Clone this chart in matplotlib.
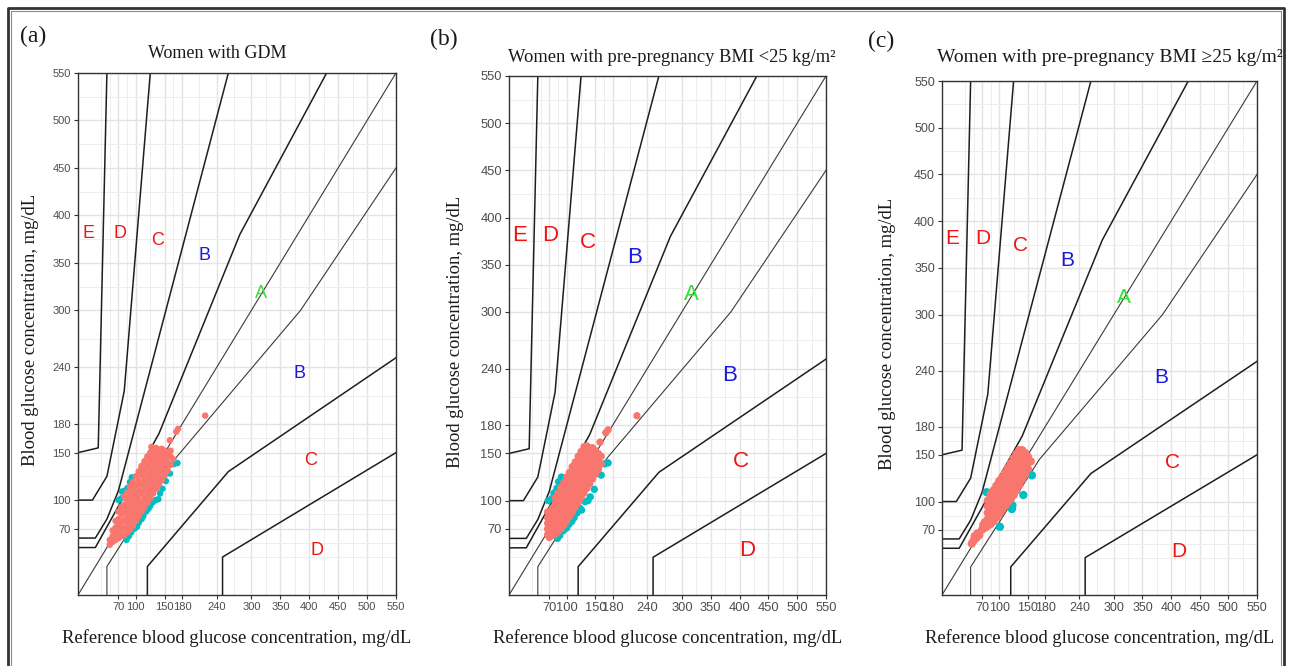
import matplotlib
matplotlib.use("Agg")
import matplotlib.pyplot as plt
from matplotlib.lines import Line2D

# Parkes consensus error grid, type 1 diabetes (mg/dL)
identity_x = [0, 550]
identity_y = [0, 550]
a_upper_x = [0, 30, 140, 280, 430]
a_upper_y = [50, 50, 170, 380, 550]
a_lower_x = [50, 50, 170, 385, 550]
a_lower_y = [0, 30, 145, 300, 450]
b_upper_x = [0, 30, 50, 70, 260]
b_upper_y = [60, 60, 80, 110, 550]
b_lower_x = [120, 120, 260, 550]
b_lower_y = [0, 30, 130, 250]
c_upper_x = [0, 25, 50, 80, 125]
c_upper_y = [100, 100, 125, 215, 550]
c_lower_x = [250, 250, 550]
c_lower_y = [0, 40, 150]
d_upper_x = [0, 35, 50]
d_upper_y = [150, 155, 550]

ticks = [70, 100, 150, 180, 240, 300, 350, 400, 450, 500, 550]
minor_ticks = [40, 55, 85, 125, 165, 210, 270, 325, 375, 425, 475, 525]

zone_names = ['E', 'D', 'C', 'B', 'A', 'B', 'C', 'D']
zone_x = [18, 72, 137, 218, 317, 383, 402, 413]
zone_y = [381, 381, 374, 358, 318, 233, 142, 47]
zone_colors = ['#F01414', '#F01414', '#F01414', '#1818E0', '#33E033',
               '#1818E0', '#F01414', '#F01414']

# points: (reference, [meter readings])
gdm_zone_a = [
    (55, [53, 58]), (60, [56, 62, 68]), (65, [58, 64, 71, 78]),
    (70, [60, 66, 73, 80, 88]), (75, [62, 69, 77, 85, 93]),
    (80, [63, 71, 79, 87, 95, 103]), (85, [66, 74, 82, 91, 100, 108]),
    (90, [69, 77, 86, 95, 105, 114]), (95, [73, 81, 90, 100, 110, 119]),
    (100, [78, 86, 95, 105, 115, 125]), (105, [83, 91, 100, 110, 120, 130]),
    (110, [88, 96, 106, 116, 126, 135]), (115, [92, 101, 111, 121, 131, 141]),
    (120, [97, 106, 116, 126, 136, 146]), (125, [102, 111, 121, 131, 141, 150]),
    (130, [107, 116, 126, 136, 146, 154]), (135, [112, 121, 131, 141, 151, 155]),
    (140, [117, 126, 136, 146, 153]), (145, [121, 131, 141, 150, 154]),
    (150, [126, 136, 145, 152]), (155, [131, 140, 148]), (160, [137, 146, 152]),
    (165, [143]), (159, [163]), (170, [172]), (173, [175]), (220, [189]),
    (127, [156]), (110, [136]),
]
gdm_zone_b = [
    (70, [100]), (75, [102]), (76, [109]), (81, [110]), (86, [113]),
    (90, [119]), (93, [124]), (84, [58]), (88, [62]), (92, [66]),
    (98, [70]), (102, [72]), (105, [76]), (110, [80]), (113, [83]),
    (118, [88]), (122, [91]), (125, [94]), (130, [98]), (134, [100]),
    (139, [101]), (142, [107]), (146, [112]), (152, [120]), (159, [128]),
    (166, [138]), (172, [139]),
]
lean_zone_a = [
    (67, [64, 70, 76, 82, 88]), (70, [61, 67, 74, 81, 88]),
    (75, [63, 70, 77, 85, 92]), (80, [64, 72, 80, 88, 96, 103]),
    (85, [67, 75, 83, 92, 100, 108]), (90, [70, 78, 87, 96, 105, 114]),
    (95, [74, 82, 91, 100, 110, 119]), (100, [78, 87, 96, 106, 115, 125]),
    (105, [83, 92, 101, 111, 120, 130]), (110, [88, 97, 107, 116, 126, 136]),
    (115, [93, 102, 112, 122, 132, 141]), (120, [98, 107, 117, 127, 137, 147]),
    (125, [103, 112, 122, 132, 142, 152]), (130, [108, 117, 127, 137, 147, 157]),
    (135, [113, 122, 132, 142, 152, 158]), (140, [118, 127, 137, 147, 156]),
    (145, [123, 132, 142, 151, 156]), (150, [128, 137, 146, 153]),
    (155, [133, 142, 150]), (160, [139, 147]),
    (158, [162]), (168, [172]), (172, [175]), (222, [190]), (110, [136]),
]
lean_zone_b = [
    (68, [100]), (74, [102]), (78, [108]), (83, [113]), (86, [120]),
    (91, [125]), (95, [123]), (84, [60]), (88, [63]), (94, [68]),
    (100, [71]), (104, [75]), (109, [78]), (113, [82]), (118, [87]),
    (123, [92]), (126, [90]), (132, [99]), (137, [100]), (141, [104]),
    (148, [112]), (160, [127]), (166, [139]), (172, [140]),
]
obese_zone_a = [
    (52, [55]), (55, [58]), (57, [63]), (60, [61]), (62, [66]), (65, [64]),
    (70, [70]), (72, [75]), (75, [72, 78]),
    (80, [74, 81, 88, 95, 101]), (85, [76, 83, 90, 97, 104, 108]),
    (90, [79, 86, 93, 100, 107, 112]), (95, [83, 90, 97, 104, 111, 117]),
    (100, [87, 94, 101, 108, 115, 122]), (105, [91, 98, 105, 112, 119, 126]),
    (110, [95, 102, 109, 116, 123, 131]), (115, [99, 106, 114, 122, 130, 136]),
    (120, [103, 111, 119, 127, 135, 141]), (125, [107, 115, 123, 131, 139, 146]),
    (130, [112, 120, 128, 136, 144, 151]), (135, [118, 126, 134, 142, 150, 155]),
    (140, [124, 132, 140, 148, 155]), (145, [129, 137, 145, 152]),
    (150, [135, 142, 148]), (155, [143]), (136, [146]),
]
obese_zone_b = [
    (78, [110]), (101, [73]), (122, [92]), (123, [96]), (142, [107]), (157, [128]),
]

titles = ['Women with GDM',
          'Women with pre-pregnancy BMI <25 kg/m²',
          'Women with pre-pregnancy BMI ≥25 kg/m²']
panel_tags = ['(a)', '(b)', '(c)']
x_label = 'Reference blood glucose concentration, mg/dL'
y_label = 'Blood glucose concentration, mg/dL'

W, H = 1289, 666
SERIF = ['Liberation Serif', 'DejaVu Serif']
SANS = ['Liberation Sans', 'DejaVu Sans']


def flatten(rows):
    xs, ys = [], []
    for ref, vals in rows:
        for v in vals:
            xs.append(ref)
            ys.append(v)
    return xs, ys


def draw_panel(ax, zone_a, zone_b, tick_size, zone_size, dot):
    thin = [(identity_x, identity_y), (a_lower_x, a_lower_y)]
    bold = [(a_upper_x, a_upper_y), (b_upper_x, b_upper_y), (b_lower_x, b_lower_y),
            (c_upper_x, c_upper_y), (c_lower_x, c_lower_y), (d_upper_x, d_upper_y)]
    for xs, ys in thin:
        ax.plot(xs, ys, color='#3a3a3a', lw=0.8, zorder=2)
    for xs, ys in bold:
        ax.plot(xs, ys, color='#1e1e1e', lw=1.1, zorder=2)

    bx, by = flatten(zone_b)
    ax.scatter(bx, by, s=dot, color='#00BFC4', edgecolors='none', zorder=3)
    rx, ry = flatten(zone_a)
    ax.scatter(rx, ry, s=dot, color='#F8766D', edgecolors='none', zorder=4)

    for name, zx, zy, col in zip(zone_names, zone_x, zone_y, zone_colors):
        ax.text(zx, zy, name, color=col, fontsize=zone_size, family=SANS,
                ha='center', va='center', zorder=5)

    ax.set_xlim(0, 550)
    ax.set_ylim(0, 550)
    ax.set_xticks(ticks)
    ax.set_yticks(ticks)
    ax.set_xticks(minor_ticks, minor=True)
    ax.set_yticks(minor_ticks, minor=True)
    ax.grid(which='major', color='#E3E3E3', lw=1.0)
    ax.grid(which='minor', color='#EEEEEE', lw=0.7)
    ax.set_axisbelow(True)
    ax.tick_params(which='major', length=3, width=0.8, color='#333333',
                   labelsize=tick_size, labelcolor='#4D4D4D', pad=2)
    ax.tick_params(which='minor', length=0)
    for lab in ax.get_xticklabels() + ax.get_yticklabels():
        lab.set_family(SANS)
    for sp in ax.spines.values():
        sp.set_color('#333333')
        sp.set_linewidth(1.0)


fig = plt.figure(figsize=(W / 100, H / 100), dpi=100)

# pixel boxes (left, top, right, bottom) of the three panels
boxes = [(78, 73, 396, 595), (509, 76, 826, 595), (942, 81, 1257, 595)]
data = [(gdm_zone_a, gdm_zone_b), (lean_zone_a, lean_zone_b), (obese_zone_a, obese_zone_b)]
tick_sizes = [8, 9.3, 9]
zone_sizes = [13, 16, 15]
dots = [22, 28, 36]
title_pos = [(217, 54, 13), (672, 57, 13.3), (1110, 57, 14)]
tag_pos = [(33, 36), (444, 39), (881, 41)]
ylab_x = [31, 456, 888]

for i, (l, t, r, b) in enumerate(boxes):
    ax = fig.add_axes([l / W, 1 - b / H, (r - l) / W, (b - t) / H])
    draw_panel(ax, data[i][0], data[i][1], tick_sizes[i], zone_sizes[i], dots[i])
    cx = (l + r) / 2
    fig.text(cx / W, 1 - 638 / H, x_label, family=SERIF, fontsize=13.4,
             ha='center', va='center', color='#1a1a1a')
    fig.text(ylab_x[i] / W, 1 - ((t + b) / 2 - 4) / H, y_label, family=SERIF,
             fontsize=13.4, rotation=90, ha='center', va='center', color='#1a1a1a')
    tx, ty, ts = title_pos[i]
    fig.text(tx / W, 1 - ty / H, titles[i], family=SERIF, fontsize=ts,
             ha='center', va='center', color='#1a1a1a')
    px, py = tag_pos[i]
    fig.text(px / W, 1 - py / H, panel_tags[i], family=SERIF, fontsize=17,
             ha='center', va='center', color='#1a1a1a')

# double frame around the figure (open at the bottom)
for off, lw, col in [(8, 2.0, '#333333'), (11, 0.8, '#8a8a8a')]:
    xs = [off / W, off / W, (W - 1 - off + 4) / W, (W - 1 - off + 4) / W]
    ys = [0, 1 - off / H, 1 - off / H, 0]
    fig.add_artist(Line2D(xs, ys, transform=fig.transFigure, color=col, lw=lw))

fig.savefig('out.png', dpi=100)
